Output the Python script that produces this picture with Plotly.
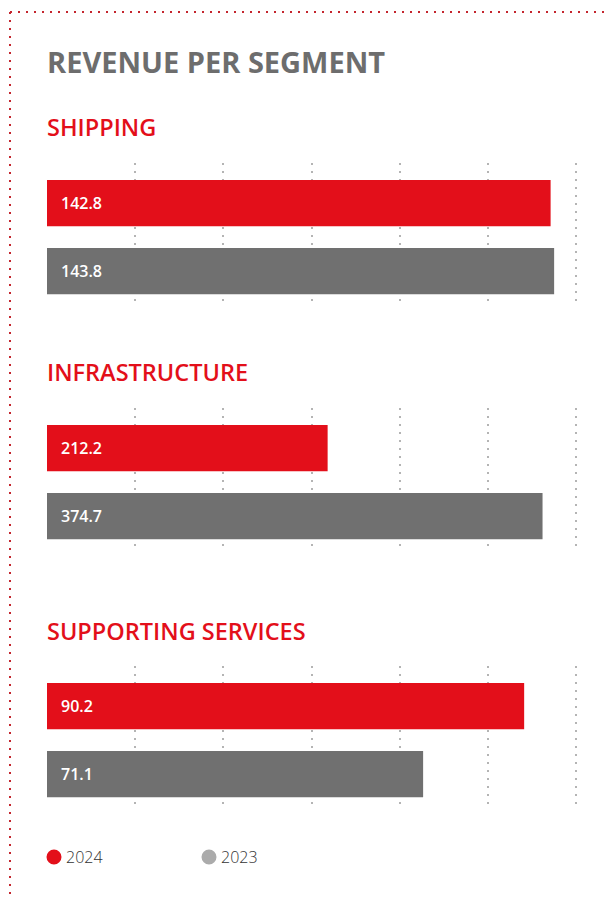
import plotly.graph_objects as go

# ---- data ----
segments = ["SHIPPING", "INFRASTRUCTURE", "SUPPORTING SERVICES"]
years = ["2024", "2023"]
values_2024 = [142.8, 212.2, 90.2]
values_2023 = [143.8, 374.7, 71.1]
axis_max = [150, 400, 100]
chart_title = "REVENUE PER SEGMENT"

# ---- style ----
W, H = 607, 897
RED = "#e30f1a"
BAR_GRAY = "#707070"
LEG_GRAY = "#ababab"
TITLE_GRAY = "#6d6d6d"
BORDER = "#c4262e"
FONT = "Open Sans"

def fx(p):
    return p / W

def fy(p):
    return 1 - p / H

X0, X1, XPAD = 47, 576, 4  # pixel span of the value axis, plus room for the last grid line

fig = go.Figure()
tops = [163, 408, 666]
sect_title_y = [127, 372, 631]
span = 142
annotations = []
layout = {}

for i, seg in enumerate(segments):
    n = "" if i == 0 else str(i + 1)
    xa, ya = "x" + n, "y" + n
    for yi, (vals, col) in enumerate([(values_2024, RED), (values_2023, BAR_GRAY)]):
        fig.add_trace(go.Bar(
            x=[vals[i]], y=[yi], orientation="h", width=0.68,
            marker=dict(color=col, line=dict(width=0)),
            xaxis=xa, yaxis=ya, showlegend=False, hoverinfo="skip",
        ))
        annotations.append(dict(
            x=0, y=yi, xref=xa, yref=ya, text=f"{vals[i]:.1f}",
            showarrow=False, xanchor="left", yanchor="middle", xshift=12,
            font=dict(family=FONT, size=16, color="white", weight=600),
        ))
    xmax = axis_max[i] * (X1 + XPAD - X0) / (X1 - X0)
    layout["xaxis" + n] = dict(
        domain=[fx(X0), fx(X1 + XPAD)], range=[0, xmax], anchor=ya,
        tickvals=[axis_max[i] * k / 6 for k in range(1, 7)],
        showticklabels=False, ticks="", showgrid=True, gridcolor="#b4b4b4",
        griddash="2px,6px", gridwidth=2, zeroline=False, showline=False,
        fixedrange=True,
    )
    layout["yaxis" + n] = dict(
        domain=[fy(tops[i] + span), fy(tops[i])], range=[1.5, -0.59], anchor=xa,
        visible=False, fixedrange=True,
    )
    annotations.append(dict(
        x=fx(45), y=fy(sect_title_y[i]), xref="paper", yref="paper", text=seg,
        showarrow=False, xanchor="left", yanchor="middle",
        font=dict(family=FONT, size=23.5, color=RED, weight=600),
    ))

annotations.append(dict(
    x=fx(45), y=fy(61), xref="paper", yref="paper", text=chart_title,
    showarrow=False, xanchor="left", yanchor="middle",
    font=dict(family=FONT, size=29, color=TITLE_GRAY, weight=700),
))

shapes = [
    dict(type="line", xref="paper", yref="paper", x0=fx(10), x1=1, y0=fy(12), y1=fy(12),
         line=dict(color=BORDER, width=2, dash="2px,6px")),
    dict(type="line", xref="paper", yref="paper", x0=fx(10), x1=fx(10), y0=fy(12), y1=0,
         line=dict(color=BORDER, width=2, dash="2px,6px")),
]

leg_x = [54, 209]
leg_cols = [RED, LEG_GRAY]
for lx, lab, col in zip(leg_x, years, leg_cols):
    shapes.append(dict(type="circle", xref="paper", yref="paper",
                       x0=fx(lx - 7.5), x1=fx(lx + 7.5), y0=fy(864.5), y1=fy(849.5),
                       fillcolor=col, line=dict(width=0)))
    annotations.append(dict(
        x=fx(lx + 10), y=fy(857), xref="paper", yref="paper", text=lab,
        showarrow=False, xanchor="left", yanchor="middle",
        font=dict(family=FONT, size=16, color="#333333", weight=300),
    ))

fig.update_layout(
    width=W, height=H, margin=dict(l=0, r=0, t=0, b=0),
    paper_bgcolor="white", plot_bgcolor="rgba(0,0,0,0)",
    barmode="overlay", annotations=annotations, shapes=shapes,
    showlegend=False, **layout,
)

fig.write_html("out.html", config={"displayModeBar": False},
               post_script="document.body.style.margin='0';")
